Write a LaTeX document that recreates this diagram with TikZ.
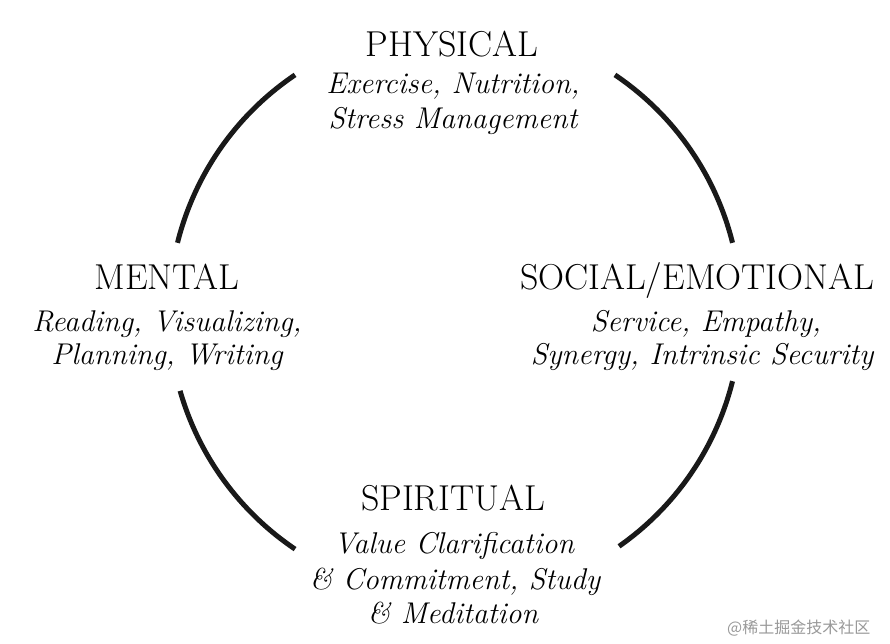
\documentclass[tikz,border=0pt]{standalone}
\usepackage{fontspec}
\usetikzlibrary{calc}
\newfontfamily\cjk{Noto Sans CJK SC}
\begin{document}
\begin{tikzpicture}[x=1pt,y=-1pt,
  arcline/.style={line width=5pt, black!90},
  title/.style={font=\fontsize{36}{40}\selectfont, inner sep=0pt, anchor=base},
  sub/.style={font=\fontsize{30}{34}\selectfont\itshape, inner sep=0pt, anchor=base, align=center},
]
\useasboundingbox (0,0) rectangle (890,644);
\fill[white] (0,0) rectangle (890,644);
\coordinate (c) at (455,312);
% arcs (angles in image y-down coordinates: negate)
\draw[arcline] ($(c)+(-124:286)$) arc[start angle=-124, end angle=-166, radius=286];
\draw[arcline] ($(c)+(-56:286)$) arc[start angle=-56, end angle=-14, radius=286];
\draw[arcline] ($(c)+(164:286)$) arc[start angle=164, end angle=124, radius=286];
\draw[arcline] ($(c)+(14:286)$) arc[start angle=14, end angle=55, radius=286];
% texts
\node[title] (phys) at (452,57) {PHYSICAL};
\node[sub] (phys1) at (453,94) {Exercise, Nutrition,};
\node[sub] (phys2) at (453,129) {Stress Management};
\node[title] (ment) at (167,289) {MENTAL};
\node[sub] (ment1) at (167,331) {Reading, Visualizing,};
\node[sub] (ment2) at (167,364) {Planning, Writing};
\node[title] (soc) at (697,289) {SOCIAL/EMOTIONAL};
\node[sub] (soc1) at (706,331) {Service, Empathy,};
\node[sub] (soc2) at (702,364) {Synergy, Intrinsic Security};
\node[title] (spir) at (453,510) {SPIRITUAL};
\node[sub] (spir1) at (454,553) {Value Clarification};
\node[sub] (spir2) at (455,589) {\& Commitment, Study};
\node[sub] (spir3) at (453,623) {\& Meditation};
\node[font=\cjk\fontsize{16}{18}\selectfont, text=black!40, inner sep=0pt, anchor=base west] (wm) at (727,633) {@稀土掘金技术社区};
\end{tikzpicture}
\end{document}
